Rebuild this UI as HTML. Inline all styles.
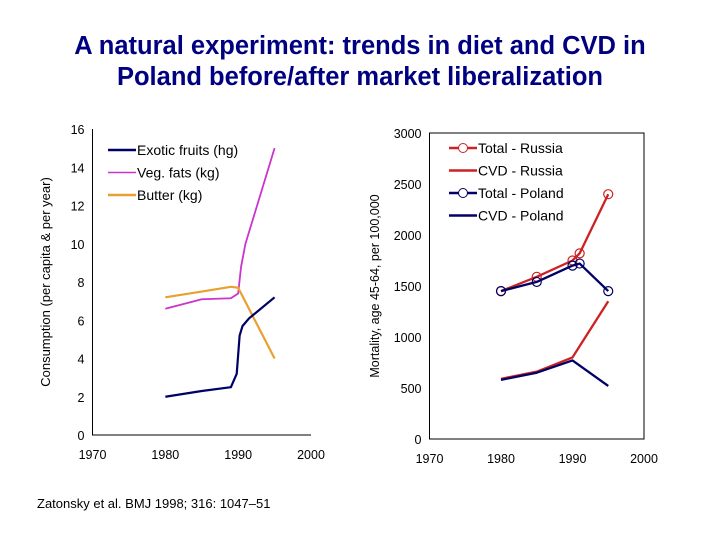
<!DOCTYPE html>
<html><head><meta charset="utf-8"><style>
body{margin:0;background:#fff;font-family:"Liberation Sans",sans-serif;}
svg{display:block}
</style></head><body>
<svg id="c" width="720" height="540" xmlns="http://www.w3.org/2000/svg" font-family="Liberation Sans, sans-serif">
<text x="360" y="54" text-anchor="middle" font-size="25.5" font-weight="bold" fill="#000080">A natural experiment: trends in diet and CVD in</text>
<text x="360" y="85" text-anchor="middle" font-size="25.5" font-weight="bold" fill="#000080">Poland before/after market liberalization</text>
<text x="37" y="508" font-size="13">Zatonsky et al. BMJ 1998; 316: 1047–51</text>
<g id="left"></g><g id="right"></g>
</svg>
<script>
const years=[1970,1980,1990,2000];
const leftTicks=[0,2,4,6,8,10,12,14,16];
const rightTicks=[0,500,1000,1500,2000,2500,3000];
const fruitX=[1980,1985,1989,1989.8,1990.2,1990.6,1991.5,1995];
const fruitY=[2.0,2.3,2.5,3.2,5.2,5.7,6.1,7.2];
const vegX=[1980,1985,1989,1990,1990.4,1991,1995];
const vegY=[6.6,7.1,7.15,7.4,8.8,10,15];
const butterX=[1980,1985,1989,1990,1995];
const butterY=[7.2,7.5,7.75,7.7,4.0];
const mortX=[1980,1985,1990,1991,1995];
const totRussia=[1450,1590,1750,1820,2400];
const totPoland=[1450,1540,1700,1720,1450];
const cvdX=[1980,1985,1990,1995];
const cvdRussia=[590,660,800,1350];
const cvdPoland=[580,650,770,520];
const NS="http://www.w3.org/2000/svg";
function mk(p,t,a){const e=document.createElementNS(NS,t);for(const k in a)e.setAttribute(k,a[k]);p.appendChild(e);return e;}
function axes(g,x0,x1,y0,y1,ymax,ticks,box,ylab,ylx,yfs,name){
 const sx=v=>x0+(v-1970)/30*(x1-x0), sy=v=>y0-(v/ymax)*(y0-y1);
 if(box){const r=mk(g,'rect',{x:x0,y:y1,width:x1-x0,height:y0-y1,fill:'none',stroke:'#000','stroke-width':1});}
 else{const a=mk(g,'path',{d:`M${x0},${y1}V${y0}H${x1}`,fill:'none',stroke:'#000'});}
 ticks.forEach(t=>{const e=mk(g,'text',{x:x0-8,y:sy(t)+5,'text-anchor':'end','font-size':12.5});e.textContent=t;});
 years.forEach(t=>{const e=mk(g,'text',{x:sx(t),y:y0+24,'text-anchor':'middle','font-size':12.5});e.textContent=t;});
 const l=mk(g,'text',{transform:`translate(${ylx},${(y0+y1)/2}) rotate(-90)`,'text-anchor':'middle','font-size':yfs});l.textContent=ylab;
 return [sx,sy];
}
function line(g,xs,ys,sx,sy,col,w,name,markers){
 const p=mk(g,'polyline',{points:xs.map((x,i)=>sx(x)+','+sy(ys[i])).join(' '),fill:'none',stroke:col,'stroke-width':w,'stroke-linejoin':'round'});
 
 if(markers)xs.forEach((x,i)=>{const c=mk(g,'circle',{cx:sx(x),cy:sy(ys[i]),r:4.5,fill:'none',stroke:col,'stroke-width':1.2});});
}
function legend(g,x,y,items){items.forEach((it,i)=>{const yy=y+i*22.5;mk(g,'line',{x1:x,y1:yy,x2:x+28,y2:yy,stroke:it[1],'stroke-width':it[2]});if(it[3]){mk(g,'circle',{cx:x+14,cy:yy,r:4.5,fill:'#fff',stroke:it[1]});}const t=mk(g,'text',{x:x+29,y:yy+5,'font-size':14});t.textContent=it[0];});}
const L=document.getElementById('left'),R=document.getElementById('right');
let [sx,sy]=axes(L,92.5,311,435,129,16,leftTicks,false,'Consumption (per capita & per year)',50,13,'left');
line(L,vegX,vegY,sx,sy,'#cc33cc',1.8,'veg-fats-line');
line(L,butterX,butterY,sx,sy,'#e8a030',2.2,'butter-line');
line(L,fruitX,fruitY,sx,sy,'#000066',2.2,'exotic-fruits-line');
legend(L,108,150,[['Exotic fruits (hg)','#000066',2.5],['Veg. fats (kg)','#cc33cc',1.5],['Butter (kg)','#e8a030',2.5]]);
[sx,sy]=axes(R,429.5,644,439,133,3000,rightTicks,true,'Mortality, age 45-64, per 100,000',379,12.5,'right');
line(R,cvdX,cvdRussia,sx,sy,'#cc2222',2.3,'cvd-russia-line');
line(R,cvdX,cvdPoland,sx,sy,'#000066',2.3,'cvd-poland-line');
line(R,mortX,totRussia,sx,sy,'#cc2222',2.3,'total-russia-line',true);
line(R,mortX,totPoland,sx,sy,'#000066',2.3,'total-poland-line',true);
legend(R,449,148,[['Total - Russia','#cc2222',2.5,true],['CVD - Russia','#cc2222',2.5],['Total - Poland','#000066',2.5,true],['CVD - Poland','#000066',2.5]]);
</script>
</body></html>
